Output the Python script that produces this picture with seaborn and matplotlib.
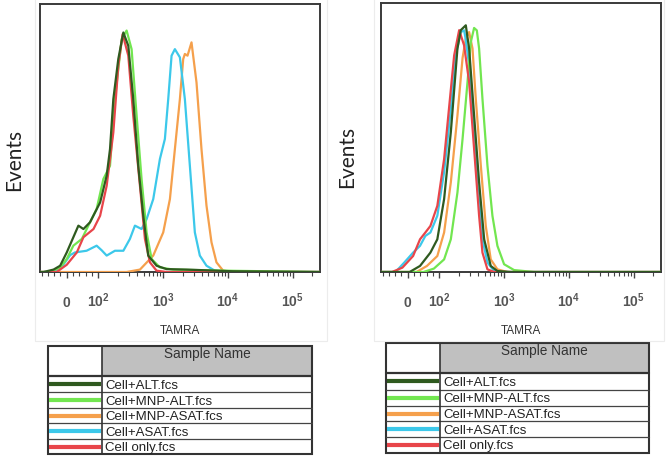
import matplotlib
matplotlib.use("Agg")
import matplotlib.pyplot as plt
import pandas as pd
import seaborn as sns
from matplotlib.patches import Rectangle

# ---------------- data (TAMRA fluorescence, events as % of tallest peak) -------------
SAMPLES = ["Cell+ALT.fcs", "Cell+MNP-ALT.fcs", "Cell+MNP-ASAT.fcs", "Cell+ASAT.fcs", "Cell only.fcs"]
COLORS = {"Cell+ALT.fcs": "#2f5a1f", "Cell+MNP-ALT.fcs": "#72e650",
          "Cell+MNP-ASAT.fcs": "#f5a04c", "Cell+ASAT.fcs": "#3cc8ea",
          "Cell only.fcs": "#e8454a"}
DRAW_ORDER = ["Cell+MNP-ASAT.fcs", "Cell+ASAT.fcs", "Cell+MNP-ALT.fcs", "Cell only.fcs", "Cell+ALT.fcs"]

# left panel
L_ALT_x = [-85, -74, -42, -21, 0, 37, 53, 74, 107, 135, 152, 171, 204, 244, 291, 347, 414, 495, 590, 793, 1130, 2297, 12000, 262144]
L_ALT_y = [0, 0, 1.0, 2.6, 8.1, 19.2, 17.8, 20.6, 28.8, 39.9, 50.9, 71.6, 88.2, 99.2, 93.7, 71.6, 44.0, 23.3, 6.8, 2.6, 1.2, 1.0, 0.3, 0]
L_MALT_x = [-85, -53, -21, 0, 21, 48, 74, 95, 120, 152, 181, 230, 274, 327, 391, 466, 557, 665, 893, 1433, 12000, 262144]
L_MALT_y = [0, 0, 1.9, 5.4, 10.9, 13.7, 20.6, 26.1, 38.5, 44.0, 71.6, 96.5, 100, 92.3, 64.7, 38.5, 16.4, 5.4, 1.9, 1.0, 0.5, 0]
L_MASAT_x = [-85, 274, 440, 705, 1005, 1274, 1520, 1815, 2042, 2166, 2380, 2742, 3274, 3907, 4666, 5571, 6650, 8428, 12000, 262144]
L_MASAT_y = [0, 0, 1.0, 6.8, 16.4, 30.2, 50.9, 71.6, 88.2, 90.3, 89.6, 95.1, 78.5, 50.9, 27.5, 12.3, 4.0, 0.55, 0, 0]
L_ASAT_x = [-85, -42, -11, 11, 26, 63, 95, 113, 135, 181, 244, 308, 368, 466, 557, 705, 893, 1066, 1200, 1351, 1520, 1815, 2166, 2586, 3087, 3684, 4666, 6266, 12000, 262144]
L_ASAT_y = [0, 0, 3.0, 7.0, 8.1, 8.8, 10.9, 9.0, 6.8, 8.8, 8.8, 13.7, 19.2, 17.8, 21.9, 30.2, 46.8, 55.1, 71.6, 89.6, 92.3, 88.9, 71.6, 44.0, 16.4, 6.8, 2.6, 0.55, 0, 0]
L_CELL_x = [-85, -32, 0, 32, 53, 85, 107, 135, 171, 204, 238, 291, 347, 440, 525, 627, 793, 1130, 262144]
L_CELL_y = [0, 0, 3.0, 8.1, 14.4, 17.8, 23.3, 35.7, 57.8, 85.4, 98.5, 89.6, 64.7, 35.7, 13.7, 4.0, 0.55, 0, 0]

# right panel
R_ALT_x = [-85, 6, 39, 72, 94, 119, 151, 191, 215, 257, 289, 345, 412, 493, 623, 789, 1266, 262144]
R_ALT_y = [0, 0, 2.5, 8.0, 13.5, 30.1, 57.7, 92.2, 99.8, 101.8, 92.2, 64.6, 37.0, 13.5, 2.5, 0.4, 0, 0]
R_MALT_x = [-85, 50, 83, 119, 151, 191, 229, 273, 307, 345, 380, 412, 464, 554, 661, 789, 1000, 1425, 2894, 262144]
R_MALT_y = [0, 0, 1.4, 5.2, 13.5, 32.8, 54.9, 78.4, 94.9, 100.7, 99.7, 92.2, 71.5, 43.9, 23.2, 10.8, 3.2, 0.8, 0, 0]
R_MASAT_x = [-85, 28, 61, 94, 119, 151, 191, 229, 257, 289, 326, 366, 438, 522, 623, 789, 1125, 262144]
R_MASAT_y = [0, 0, 2.5, 6.6, 16.3, 37.0, 64.6, 88.3, 96.3, 99.0, 92.2, 71.5, 43.9, 19.0, 5.2, 1.1, 0, 0]
R_ASAT_x = [-85, -39, -11, 17, 39, 56, 72, 94, 119, 151, 180, 215, 242, 257, 289, 326, 389, 464, 554, 702, 888, 262144]
R_ASAT_y = [0, 0, 3.9, 8.0, 10.8, 14.9, 16.3, 23.2, 41.3, 67.3, 89.4, 99.0, 99.7, 95.8, 85.3, 64.6, 35.6, 13.5, 3.9, 0.4, 0, 0]
R_CELL_x = [-85, -50, -17, 17, 39, 56, 72, 94, 119, 143, 170, 203, 242, 289, 345, 412, 464, 554, 702, 262144]
R_CELL_y = [0, 0, 1.8, 6.6, 13.5, 16.3, 19.0, 27.3, 46.6, 68.7, 89.4, 99.8, 93.5, 78.4, 50.8, 23.2, 8.0, 1.1, 0, 0]

MAJOR_TICKS = [0, 100, 1000, 10000, 100000]
MAJOR_LABELS = ["$0$", "$10^{2}$", "$10^{3}$", "$10^{4}$", "$10^{5}$"]
MINOR_TICKS = ([-80, -60, -40, -20, 20, 40, 60, 80]
               + [k * 100 for k in range(2, 10)] + [k * 1000 for k in range(2, 10)]
               + [k * 10000 for k in range(2, 10)] + [200000])

LEFT_DATA = {"Cell+ALT.fcs": (L_ALT_x, L_ALT_y), "Cell+MNP-ALT.fcs": (L_MALT_x, L_MALT_y),
             "Cell+MNP-ASAT.fcs": (L_MASAT_x, L_MASAT_y), "Cell+ASAT.fcs": (L_ASAT_x, L_ASAT_y),
             "Cell only.fcs": (L_CELL_x, L_CELL_y)}
RIGHT_DATA = {"Cell+ALT.fcs": (R_ALT_x, R_ALT_y), "Cell+MNP-ALT.fcs": (R_MALT_x, R_MALT_y),
              "Cell+MNP-ASAT.fcs": (R_MASAT_x, R_MASAT_y), "Cell+ASAT.fcs": (R_ASAT_x, R_ASAT_y),
              "Cell only.fcs": (R_CELL_x, R_CELL_y)}

# ---------------- style ----------------
sns.set_theme(style="white")
plt.rcParams["font.family"] = ["Liberation Sans", "DejaVu Sans"]
plt.rcParams["mathtext.fontset"] = "custom"
plt.rcParams["mathtext.rm"] = "Liberation Sans"
plt.rcParams["mathtext.bf"] = "Liberation Sans:bold"
plt.rcParams["mathtext.default"] = "bf"

W, H = 666, 460
fig = plt.figure(figsize=(W / 100, H / 100), dpi=100)
fig.patch.set_facecolor("white")


def px_rect(x0, y0, x1, y1):
    return [x0 / W, 1 - y1 / H, (x1 - x0) / W, (y1 - y0) / H]


def draw_hist(x0, y0, x1, y1, data, ylab_xy):
    ax = fig.add_axes(px_rect(x0, y0, x1, y1))
    rows = []
    for name, (xs, ys) in data.items():
        for xv, yv in zip(xs, ys):
            rows.append((name, xv, yv))
    df = pd.DataFrame(rows, columns=["Sample", "TAMRA", "Events"])
    sns.lineplot(data=df, x="TAMRA", y="Events", hue="Sample", hue_order=DRAW_ORDER,
                 palette=COLORS, estimator=None, sort=False, legend=False,
                 lw=1.6, ax=ax, zorder=3)
    ax.set_xscale("symlog", linthresh=100, linscale=0.4365)
    ax.set_xlim(-85, 262144)
    ax.set_ylim(0, 111)
    ax.set_xticks(MAJOR_TICKS)
    ax.set_xticklabels(MAJOR_LABELS)
    ax.set_xticks(MINOR_TICKS, minor=True)
    ax.set_yticks([])
    ax.tick_params(axis="x", which="both", bottom=True, direction="out", color="#444444")
    ax.tick_params(axis="x", which="major", length=4.5, width=1.0, pad=20,
                   labelsize=10, labelcolor="#555555")
    ax.tick_params(axis="x", which="minor", length=2.8, width=0.8)
    for lbl in ax.get_xticklabels():
        lbl.set_va("baseline")
    for s in ax.spines.values():
        s.set_visible(True)
        s.set_color("#3a3a3a")
        s.set_linewidth(1.4)
    ax.set_xlabel("TAMRA", fontsize=8.5, color="#333333")
    ax.xaxis.set_label_coords(0.5, (y1 - 331) / (y1 - y0))
    ax.xaxis.label.set_va("center")
    ax.set_ylabel("Events", fontsize=15, color="#222222", family=["Lato", "DejaVu Sans"])
    ax.yaxis.set_label_coords((ylab_xy[0] - x0) / (x1 - x0), (y1 - ylab_xy[1]) / (y1 - y0))
    ax.yaxis.label.set_va("center")
    return ax


def draw_table(x0, y0, x1, y1, xdiv, yhead, rowlines):
    tax = fig.add_axes(px_rect(x0 - 4, y0 - 4, x1 + 4, y1 + 4))
    tax.set_xlim(x0 - 4, x1 + 4)
    tax.set_ylim(y1 + 4, y0 - 4)
    tax.axis("off")
    tax.add_patch(Rectangle((xdiv, y0), x1 - xdiv, yhead - y0, fc="#c0c0c0", ec="none"))
    tops = [yhead] + rowlines
    for yl in rowlines[:-1]:
        tax.plot([x0, x1], [yl, yl], color="#444444", lw=0.9)
    tax.plot([xdiv, xdiv], [y0, y1], color="#333333", lw=1.2)
    tax.plot([x0, x1], [yhead, yhead], color="#333333", lw=1.6)
    tax.add_patch(Rectangle((x0, y0), x1 - x0, y1 - y0, fill=False, ec="#333333", lw=1.5))
    for i, name in enumerate(SAMPLES):
        yc = (tops[i] + tops[i + 1]) / 2
        tax.plot([x0 + 1, xdiv - 1], [yc, yc], color=COLORS[name], lw=3,
                 solid_capstyle="butt")
        tax.text(xdiv + 3, yc + 0.6, name, va="center", ha="left", fontsize=9.5,
                 color="#222222")
    tax.text((xdiv + x1) / 2, y0 + 7, "Sample Name", ha="center", va="center",
             fontsize=9.8, color="#333333")


# faint panel outlines
for bx0, bx1 in [(35, 327), (374, 664)]:
    fig.add_artist(Rectangle((bx0 / W, 1 - 342 / H), (bx1 - bx0) / W, 342 / H + 0.01,
                             transform=fig.transFigure, fill=False, ec="#ececec", lw=0.8))

draw_hist(40, 5, 320, 273, LEFT_DATA, (14, 160))
draw_hist(381, 4, 661, 273, RIGHT_DATA, (347, 157))

draw_table(48, 347, 312, 455, 102, 377, [393.3, 409, 424.3, 440, 455])
draw_table(386, 344, 649, 454, 440, 374, [390.7, 406.7, 422.3, 437.7, 454])

fig.savefig("out.png", dpi=100)
